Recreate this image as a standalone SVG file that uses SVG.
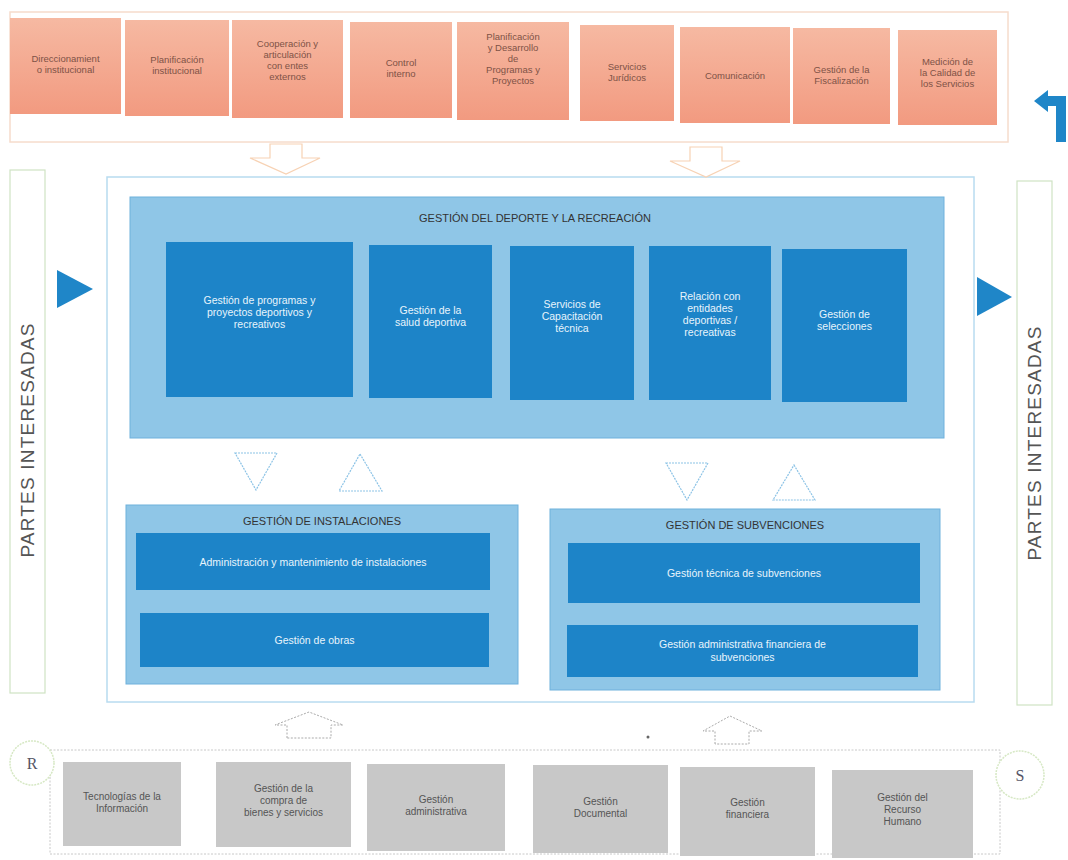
<svg xmlns="http://www.w3.org/2000/svg" width="1068" height="860" viewBox="0 0 1068 860">
<defs>
<linearGradient id="og" x1="0" y1="0" x2="0" y2="1"><stop offset="0" stop-color="#f6b9a2"/><stop offset="1" stop-color="#f29a80"/></linearGradient>
<style>
.org{fill:url(#og);}
.ot{font-family:"Liberation Sans",Arial,sans-serif;font-size:9.5px;fill:#7e5246;text-anchor:middle;}
.lb{fill:#8fc6e7;stroke:#6fb1dc;stroke-width:1;}
.db{fill:#1d84c8;}
.wt{font-family:"Liberation Sans",Arial,sans-serif;font-size:10.5px;fill:#e8f4fc;text-anchor:middle;}
.tt{font-family:"Liberation Sans",Arial,sans-serif;font-size:11px;fill:#333;text-anchor:middle;}
.gr{fill:#c8c8c8;}
.gt{font-family:"Liberation Sans",Arial,sans-serif;font-size:10px;fill:#555;text-anchor:middle;}
.pt{font-family:"Liberation Sans",Arial,sans-serif;font-size:19px;fill:#555;text-anchor:middle;letter-spacing:1.2px;}
.tri{fill:none;stroke:#8cc3e6;stroke-width:1.2;stroke-dasharray:2 1;}
.oarr{fill:#fff;stroke:#f7d2b4;stroke-width:1.2;}
.garr{fill:#fff;stroke:#aaa;stroke-width:1;stroke-dasharray:2 1.5;}
</style>
</defs>
<rect width="1068" height="860" fill="#fff"/>

<!-- containers -->
<rect x="10" y="12" width="998" height="130" fill="none" stroke="#f6dccc" stroke-width="1.5"/>
<rect x="107" y="177" width="867" height="525" fill="none" stroke="#b8dbf0" stroke-width="1.5"/>
<rect x="50" y="750" width="950" height="104" fill="none" stroke="#c8c8c8" stroke-width="1" stroke-dasharray="2 1.5"/>

<!-- top row -->
<g id="n-direccionamiento"><rect class="org" x="10" y="18" width="111" height="96"/><text class="ot" x="65.5" y="62">Direccionamient<tspan x="65.5" dy="11">o institucional</tspan></text></g>
<g id="n-planificacion"><rect class="org" x="125" y="20" width="104" height="96"/><text class="ot" x="177" y="63">Planificación<tspan x="177" dy="11">institucional</tspan></text></g>
<g id="n-cooperacion"><rect class="org" x="232" y="20" width="111" height="98"/><text class="ot" x="287.5" y="47">Cooperación y<tspan x="287.5" dy="11">articulación</tspan><tspan x="287.5" dy="11">con entes</tspan><tspan x="287.5" dy="11">externos</tspan></text></g>
<g id="n-control"><rect class="org" x="350" y="22" width="102" height="96"/><text class="ot" x="401" y="66">Control<tspan x="401" dy="11">interno</tspan></text></g>
<g id="n-planprog"><rect class="org" x="457" y="22" width="112" height="98"/><text class="ot" x="513" y="40">Planificación<tspan x="513" dy="11">y Desarrollo</tspan><tspan x="513" dy="11">de</tspan><tspan x="513" dy="11">Programas y</tspan><tspan x="513" dy="11">Proyectos</tspan></text></g>
<g id="n-juridicos"><rect class="org" x="580" y="25" width="94" height="96"/><text class="ot" x="627" y="70">Servicios<tspan x="627" dy="11">Jurídicos</tspan></text></g>
<g id="n-comunicacion"><rect class="org" x="680" y="27" width="110" height="96"/><text class="ot" x="735" y="79">Comunicación</text></g>
<g id="n-fiscalizacion"><rect class="org" x="793" y="28" width="97" height="96"/><text class="ot" x="841.5" y="73">Gestión de la<tspan x="841.5" dy="11">Fiscalización</tspan></text></g>
<g id="n-calidad"><rect class="org" x="898" y="30" width="99" height="95"/><text class="ot" x="947.5" y="65">Medición de<tspan x="947.5" dy="11">la Calidad de</tspan><tspan x="947.5" dy="11">los Servicios</tspan></text></g>

<!-- side panels -->
<g id="n-partes-izq"><rect x="10" y="170" width="35" height="523" fill="#fff" stroke="#cfe3c4" stroke-width="1.2"/><text class="pt" transform="translate(34 440) rotate(-90)">PARTES  INTERESADAS</text></g>
<g id="n-partes-der"><rect x="1017" y="181" width="35" height="524" fill="#fff" stroke="#cfe3c4" stroke-width="1.2"/><text class="pt" transform="translate(1041 443) rotate(-90)">PARTES  INTERESADAS</text></g>

<!-- main block -->
<g id="n-deporte">
<rect class="lb" x="130" y="197" width="814" height="241"/>
<text class="tt" x="535" y="222">GESTIÓN DEL DEPORTE Y LA RECREACIÓN</text>
<rect class="db" x="166" y="242" width="187" height="155"/>
<text class="wt" x="259.5" y="304">Gestión de programas y<tspan x="259.5" dy="12">proyectos deportivos y</tspan><tspan x="259.5" dy="12">recreativos</tspan></text>
<rect class="db" x="369" y="245" width="123" height="153"/>
<text class="wt" x="430.5" y="314">Gestión de la<tspan x="430.5" dy="12">salud deportiva</tspan></text>
<rect class="db" x="510" y="246" width="124" height="154"/>
<text class="wt" x="572" y="308">Servicios de<tspan x="572" dy="12">Capacitación</tspan><tspan x="572" dy="12">técnica</tspan></text>
<rect class="db" x="649" y="246" width="122" height="154"/>
<text class="wt" x="710" y="300">Relación con<tspan x="710" dy="12">entidades</tspan><tspan x="710" dy="12">deportivas /</tspan><tspan x="710" dy="12">recreativas</tspan></text>
<rect class="db" x="782" y="249" width="125" height="153"/>
<text class="wt" x="844.5" y="318">Gestión de<tspan x="844.5" dy="12">selecciones</tspan></text>
</g>

<g id="n-instalaciones">
<rect class="lb" x="126" y="505" width="392" height="179"/>
<text class="tt" x="322" y="525">GESTIÓN DE INSTALACIONES</text>
<rect class="db" x="136" y="533" width="354" height="57"/>
<text class="wt" x="313" y="566">Administración y mantenimiento de instalaciones</text>
<rect class="db" x="140" y="613" width="349" height="54"/>
<text class="wt" x="314.5" y="644">Gestión de obras</text>
</g>

<g id="n-subvenciones">
<rect class="lb" x="550" y="509" width="390" height="181"/>
<text class="tt" x="745" y="529">GESTIÓN DE SUBVENCIONES</text>
<rect class="db" x="568" y="543" width="352" height="60"/>
<text class="wt" x="744" y="577">Gestión técnica de subvenciones</text>
<rect class="db" x="567" y="625" width="351" height="52"/>
<text class="wt" x="742.5" y="648">Gestión administrativa financiera de<tspan x="742.5" dy="13">subvenciones</tspan></text>
</g>

<!-- bottom row -->
<g id="n-tic"><rect class="gr" x="63" y="762" width="118" height="84"/><text class="gt" x="122" y="800">Tecnologías de la<tspan x="122" dy="12">Información</tspan></text></g>
<g id="n-compra"><rect class="gr" x="216" y="762" width="135" height="85"/><text class="gt" x="283.5" y="792">Gestión de la<tspan x="283.5" dy="12">compra de</tspan><tspan x="283.5" dy="12">bienes y servicios</tspan></text></g>
<g id="n-administrativa"><rect class="gr" x="367" y="764" width="138" height="87"/><text class="gt" x="436" y="803">Gestión<tspan x="436" dy="12">administrativa</tspan></text></g>
<g id="n-documental"><rect class="gr" x="533" y="765" width="135" height="88"/><text class="gt" x="600.5" y="805">Gestión<tspan x="600.5" dy="12">Documental</tspan></text></g>
<g id="n-financiera"><rect class="gr" x="680" y="767" width="135" height="89"/><text class="gt" x="747.5" y="806">Gestión<tspan x="747.5" dy="12">financiera</tspan></text></g>
<g id="n-rrhh"><rect class="gr" x="832" y="770" width="141" height="88"/><text class="gt" x="902.5" y="801">Gestión del<tspan x="902.5" dy="12">Recurso</tspan><tspan x="902.5" dy="12">Humano</tspan></text></g>

<g id="n-R"><circle cx="32" cy="763" r="22" fill="#fff" stroke="#d6e8c4" stroke-width="1.5" stroke-dasharray="2 1"/><text x="32" y="769" font-family="Liberation Serif,serif" font-size="16" fill="#556" text-anchor="middle">R</text></g>
<g id="n-S"><circle cx="1020" cy="775" r="24" fill="#fff" stroke="#d6e8c4" stroke-width="1.5" stroke-dasharray="2 1"/><text x="1020" y="781" font-family="Liberation Serif,serif" font-size="16" fill="#556" text-anchor="middle">S</text></g>

<!-- connectors -->
<g id="connectors">
<path class="oarr" d="M270 144 H302 V158 H320 L286 174 L250 158 H270 Z"/>
<path class="oarr" d="M690 147 H722 V161 H740 L706 177 L670 161 H690 Z"/>
<polygon class="tri" points="235,453 277,453 256,490"/>
<polygon class="tri" points="360,454 382,491 339,491"/>
<polygon class="tri" points="666,463 708,463 687,500"/>
<polygon class="tri" points="794,465 815,500 773,500"/>
<polygon points="57,270 93,289 57,308" fill="#1f86c8"/>
<polygon points="977,277 1012,297 977,316" fill="#1f86c8"/>
<path class="garr" d="M287 738 V725 H275 L309 712 L343 725 H331 V738 Z"/>
<path class="garr" d="M715 744 V731 H703 L730 716 L762 731 H749 V744 Z"/>
<circle cx="648" cy="737" r="1.5" fill="#666"/>
<path d="M1068 96 H1048 V90 L1034 101 L1048 112 V106 H1056 V142 H1066 V96 Z" fill="#1f86c8"/>
</g>
</svg>
